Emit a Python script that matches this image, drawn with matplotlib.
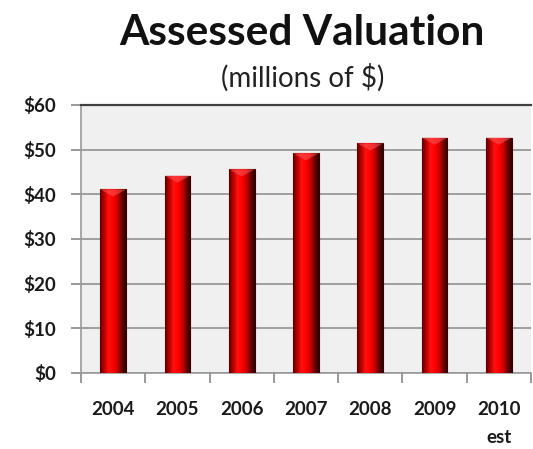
import matplotlib.pyplot as plt
import numpy as np
from matplotlib.colors import LinearSegmentedColormap

years = ['2004', '2005', '2006', '2007', '2008', '2009', '2010\nest']
valuation = [41.1, 44.2, 45.6, 49.2, 51.4, 52.7, 52.7]
yticks = [0, 10, 20, 30, 40, 50, 60]

plt.rcParams['font.family'] = ['Lato', 'DejaVu Sans']

fig = plt.figure(figsize=(5.33, 4.49), dpi=100)
ax = fig.add_axes([81 / 533, 1 - 373 / 449, 450 / 533, 268 / 449])
ax.set_facecolor('#f0f0f0')

x = np.arange(len(years))
bars = ax.bar(x, valuation, width=0.4, color='#e00000', edgecolor='#3a0000',
              linewidth=0.8, zorder=3)

# shading so the bars look round
red = LinearSegmentedColormap.from_list('cyl', ['#5a0000', '#c00000', '#ff1010',
                                                '#ff0000', '#d00000', '#700000', '#300000'])
grad = np.linspace(0, 1, 64).reshape(1, -1)
for b in bars:
    x0, w, h = b.get_x(), b.get_width(), b.get_height()
    im = ax.imshow(grad, cmap=red, aspect='auto', extent=(x0, x0 + w, 0, h), zorder=3.5)
    im.set_clip_path(b)
    # small bevel at the top
    ax.fill([x0, x0 + w, x0 + w / 2], [h, h, h - 1.6], color='#ff6060', alpha=0.5, zorder=4, lw=0)

ax.set_xlim(-0.5, len(years) - 0.5)
ax.set_ylim(0, 60)
ax.set_yticks(yticks)
ax.set_yticklabels(['$%d' % v for v in yticks])
ax.set_xticks(np.arange(len(years) + 1) - 0.5, minor=False)
ax.set_xticklabels([])
ax.set_xticks(x, minor=True)
ax.set_xticklabels(years, minor=True, fontweight='bold', fontsize=13.5, color='#1a1a1a',
                   linespacing=1.8)
ax.tick_params(axis='x', which='minor', length=0, pad=20)
ax.tick_params(axis='x', which='major', length=7, color='#888888', width=1.2)
ax.tick_params(axis='y', length=7, color='#888888', width=1.2, pad=11)
for lab in ax.get_yticklabels():
    lab.set_fontweight('bold')
    lab.set_fontsize(13.5)
    lab.set_color('#1a1a1a')

ax.grid(axis='y', color='#909090', linewidth=1.2, zorder=1)
ax.set_axisbelow(True)
ax.spines['left'].set_color('#999999')
ax.spines['left'].set_linewidth(1.2)
ax.spines['bottom'].set_color('#999999')
ax.spines['bottom'].set_linewidth(1.2)
ax.spines['top'].set_color('#404040')
ax.spines['top'].set_linewidth(1.6)
ax.spines['right'].set_visible(False)

fig.text(0.567, 1 - 45 / 449, 'Assessed Valuation', ha='center', va='baseline',
         fontsize=30.5, fontweight='bold', color='#111111')
fig.text(0.567, 1 - 87 / 449, '(millions of $)', ha='center', va='baseline',
         fontsize=20, color='#222222')

plt.savefig('out.png', dpi=100)
